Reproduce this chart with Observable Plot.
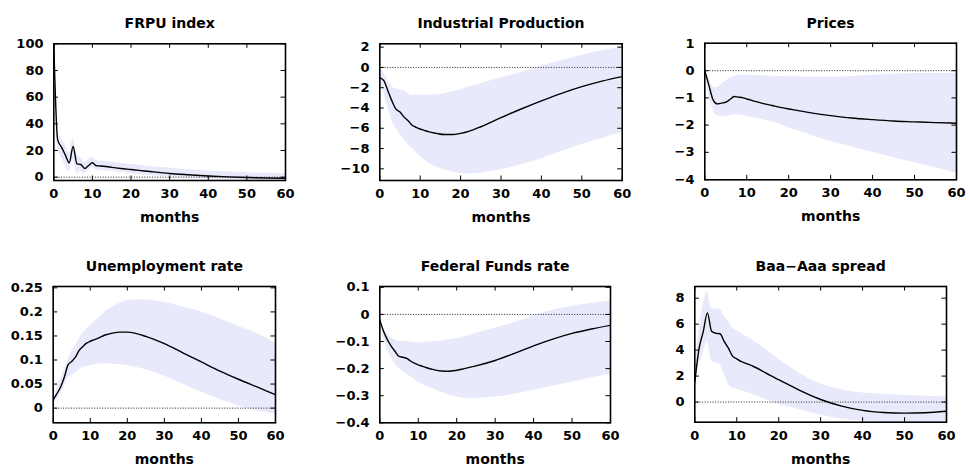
<!DOCTYPE html>
<html>
<head>
<meta charset="utf-8">
<script src="https://cdn.jsdelivr.net/npm/d3@7"></script>
<script src="https://cdn.jsdelivr.net/npm/@observablehq/plot@0.6"></script>
<style>
  html, body { margin: 0; padding: 0; background: #fff; }
  #grid { position: relative; width: 970px; height: 474px; background: #fff; }
  #grid svg { position: absolute; }
</style>
</head>
<body>
<div id="grid"></div>
<script>
// Impulse responses (median with confidence band) over a 60-month horizon
const months = [0,1,2,3,4,5,6,7,8,9,10,11,12,14,16,18,20,22,25,30,35,40,45,50,55,60];
const xTicks = [0,10,20,30,40,50,60];

const frpuMid = [100,28,22.5,16.5,10.8,23,10,9.5,6.5,8.7,10.8,8.6,8.4,7.8,7.0,6.3,5.7,5.1,4.2,2.8,1.8,0.9,0.2,-0.3,-0.6,-0.8];
const frpuLo  = [100,22,15,9,4,13,2.5,4.5,2.8,5,7,5.2,5,4.5,4,3.3,2.6,2,1.3,0.3,-0.5,-1.2,-1.6,-1.9,-2.1,-2.3];
const frpuHi  = [100,33,29,24,18,29,17,15,11,13,15,12.5,12,11.5,10.8,10,9.5,9,8,6.8,5.5,4.6,4,3.4,3,2.8];
const frpuTicks = [0,20,40,60,80,100];

const ipMid = [-1.0,-1.3,-2.3,-3.3,-4.1,-4.4,-4.9,-5.25,-5.7,-5.9,-6.07,-6.2,-6.33,-6.5,-6.62,-6.62,-6.5,-6.3,-5.85,-4.95,-4.1,-3.3,-2.55,-1.9,-1.35,-0.9];
const ipHi  = [0,-0.6,-1.3,-1.9,-2.1,-2.2,-2.3,-2.6,-2.8,-2.75,-2.75,-2.75,-2.75,-2.7,-2.6,-2.4,-2.2,-1.95,-1.6,-1.05,-0.5,0.14,0.66,1.2,1.64,2.0];
const ipLo  = [-1.3,-2.5,-4.0,-5.2,-6.0,-6.6,-7.1,-7.6,-8.0,-8.4,-8.8,-9.1,-9.4,-9.8,-10.1,-10.3,-10.45,-10.5,-10.4,-10.1,-9.6,-9.0,-8.3,-7.6,-7.0,-6.4];
const ipTicks = [2,0,-2,-4,-6,-8,-10];

const priceMid = [0,-0.55,-1.08,-1.22,-1.19,-1.16,-1.06,-0.95,-0.97,-0.99,-1.04,-1.08,-1.13,-1.21,-1.28,-1.35,-1.41,-1.46,-1.54,-1.65,-1.74,-1.8,-1.85,-1.88,-1.91,-1.93];
const priceHi  = [0,-0.3,-0.61,-0.64,-0.49,-0.39,-0.27,-0.2,-0.17,-0.17,-0.17,-0.18,-0.18,-0.19,-0.2,-0.21,-0.22,-0.22,-0.23,-0.23,-0.21,-0.17,-0.12,-0.1,-0.1,-0.1];
const priceLo  = [0,-0.9,-1.45,-1.65,-1.68,-1.7,-1.66,-1.62,-1.63,-1.65,-1.68,-1.71,-1.74,-1.8,-1.88,-1.98,-2.1,-2.2,-2.35,-2.6,-2.8,-3.0,-3.2,-3.38,-3.57,-3.78];
const priceTicks = [1,0,-1,-2,-3,-4];

const unempMid = [0.017,0.03,0.044,0.064,0.09,0.097,0.106,0.12,0.128,0.135,0.139,0.142,0.145,0.152,0.156,0.158,0.158,0.156,0.149,0.134,0.115,0.096,0.077,0.06,0.044,0.028];
const unempHi  = [0.022,0.04,0.06,0.08,0.1,0.118,0.13,0.143,0.155,0.163,0.17,0.178,0.185,0.2,0.21,0.218,0.223,0.225,0.225,0.22,0.21,0.2,0.186,0.17,0.155,0.135];
const unempLo  = [0.01,0.018,0.03,0.045,0.063,0.068,0.073,0.08,0.085,0.087,0.088,0.09,0.091,0.092,0.091,0.09,0.088,0.085,0.08,0.067,0.05,0.033,0.018,0.005,-0.006,-0.012];
const unempTicks = [0,0.05,0.1,0.15,0.2,0.25];

const ffMid = [-0.02,-0.063,-0.094,-0.118,-0.137,-0.155,-0.158,-0.162,-0.172,-0.18,-0.186,-0.191,-0.196,-0.204,-0.209,-0.21,-0.206,-0.2,-0.19,-0.17,-0.144,-0.116,-0.091,-0.07,-0.054,-0.04];
const ffHi  = [-0.01,-0.05,-0.07,-0.085,-0.095,-0.1,-0.1,-0.1,-0.102,-0.104,-0.105,-0.104,-0.103,-0.101,-0.098,-0.094,-0.09,-0.082,-0.07,-0.05,-0.03,-0.005,0.015,0.03,0.04,0.05];
const ffLo  = [-0.04,-0.09,-0.13,-0.16,-0.185,-0.2,-0.21,-0.22,-0.23,-0.24,-0.25,-0.257,-0.264,-0.275,-0.288,-0.297,-0.305,-0.309,-0.31,-0.305,-0.295,-0.28,-0.265,-0.25,-0.235,-0.22];
const ffTicks = [0.1,0,-0.1,-0.2,-0.3,-0.4];

const baaMid = [1.54,4.1,5.4,6.87,5.46,5.3,5.26,4.67,4.15,3.54,3.33,3.13,3.0,2.74,2.41,2.05,1.72,1.4,0.9,0.2,-0.31,-0.64,-0.8,-0.85,-0.82,-0.7];
const baaHi  = [2.0,5.5,7.5,8.5,7.2,7.15,7.2,6.6,6.2,5.7,5.5,5.3,5.1,4.7,4.3,3.8,3.3,2.85,2.2,1.4,0.95,0.7,0.6,0.5,0.45,0.4];
const baaLo  = [1.3,2.8,3.8,4.6,3.2,3.0,2.9,2.2,1.4,1.1,1.0,0.9,0.8,0.55,0.3,0.05,-0.2,-0.35,-0.6,-1.0,-1.3,-1.45,-1.55,-1.6,-1.6,-1.6];
const baaTicks = [0,2,4,6,8];

const panels = [
  {title: "FRPU index", mid: frpuMid, lo: frpuLo, hi: frpuHi, ticks: frpuTicks, domain: [-2.5, 100]},
  {title: "Industrial Production", mid: ipMid, lo: ipLo, hi: ipHi, ticks: ipTicks, domain: [-11.15, 2.33]},
  {title: "Prices", mid: priceMid, lo: priceLo, hi: priceHi, ticks: priceTicks, domain: [-4.01, 1.01]},
  {title: "Unemployment rate", mid: unempMid, lo: unempLo, hi: unempHi, ticks: unempTicks, domain: [-0.0305, 0.2528]},
  {title: "Federal Funds rate", mid: ffMid, lo: ffLo, hi: ffHi, ticks: ffTicks, domain: [-0.4, 0.103]},
  {title: "Baa\u2212Aaa spread", mid: baaMid, lo: baaLo, hi: baaHi, ticks: baaTicks, domain: [-1.55, 8.9]}
];

// placement of each panel's svg and its plotting frame
const layout = [
  {left: 0,   top: 0,   width: 323, height: 237, ml: 53.3, mr: 38,   mt: 43.3, mb: 57},
  {left: 323, top: 0,   width: 323, height: 237, ml: 56.3, mr: 24.3, mt: 43.3, mb: 57},
  {left: 646, top: 0,   width: 324, height: 237, ml: 58.3, mr: 14,   mt: 42.7, mb: 57.7},
  {left: 0,   top: 237, width: 323, height: 237, ml: 52.7, mr: 48,   mt: 49,   mb: 51.7},
  {left: 323, top: 237, width: 323, height: 237, ml: 56.3, mr: 36,   mt: 49,   mb: 51.7},
  {left: 646, top: 237, width: 324, height: 237, ml: 48.3, mr: 24,   mt: 49,   mb: 52.3}
];

const fmt = v => String(v).replace("-", "\u2212");
const tickLen = 4.5;
const band = "#e9e9fc";
const curve = "monotone-x";

const grid = document.getElementById("grid");

panels.forEach((p, k) => {
  const L = layout[k];
  const rows = months.map((m, i) => ({m, mid: p.mid[i], lo: p.lo[i], hi: p.hi[i]}));
  const [y0, y1] = p.domain;
  const chart = Plot.plot({
    width: L.width,
    height: L.height,
    marginLeft: L.ml, marginRight: L.mr, marginTop: L.mt, marginBottom: L.mb,
    style: {fontFamily: "'DejaVu Sans', sans-serif", fontWeight: "bold", fontSize: "13px", background: "transparent", color: "#000"},
    x: {domain: [0, 60], axis: null},
    y: {domain: p.domain, axis: null},
    marks: [
      Plot.areaY(rows, {x: "m", y1: "lo", y2: "hi", fill: band, curve, clip: true}),
      Plot.ruleY([0], {stroke: "#222", strokeWidth: 1, strokeDasharray: "1,1.6"}),
      Plot.lineY(rows, {x: "m", y: "mid", stroke: "#000", strokeWidth: 1.4, curve, clip: true}),
      // inward ticks on all four sides
      Plot.ruleX(xTicks, {x: d => d, y1: y0, y2: y0, insetBottom: tickLen, stroke: "#000", strokeWidth: 1}),
      Plot.ruleX(xTicks, {x: d => d, y1: y1, y2: y1, insetTop: tickLen, stroke: "#000", strokeWidth: 1}),
      Plot.ruleY(p.ticks, {y: d => d, x1: 0, x2: 0, insetRight: -tickLen, stroke: "#000", strokeWidth: 1}),
      Plot.ruleY(p.ticks, {y: d => d, x1: 60, x2: 60, insetLeft: -tickLen, stroke: "#000", strokeWidth: 1}),
      Plot.frame({stroke: "#000", strokeWidth: 1.6}),
      Plot.text(xTicks, {x: d => d, frameAnchor: "bottom", dy: 17.5, text: d => fmt(d), fontSize: 13, fontWeight: "bold"}),
      Plot.text(p.ticks, {y: d => d, frameAnchor: "left", textAnchor: "end", dx: -10.3, text: d => fmt(d), fontSize: 13, fontWeight: "bold"}),
      Plot.text(["months"], {frameAnchor: "bottom", dy: 41.5, fontSize: 14, fontWeight: "bold"}),
      Plot.text([p.title], {frameAnchor: "top", dy: -25.5, fontSize: 14, fontWeight: "bold"})
    ]
  });
  chart.style.left = L.left + "px";
  chart.style.top = L.top + "px";
  grid.appendChild(chart);
});
</script>
</body>
</html>
